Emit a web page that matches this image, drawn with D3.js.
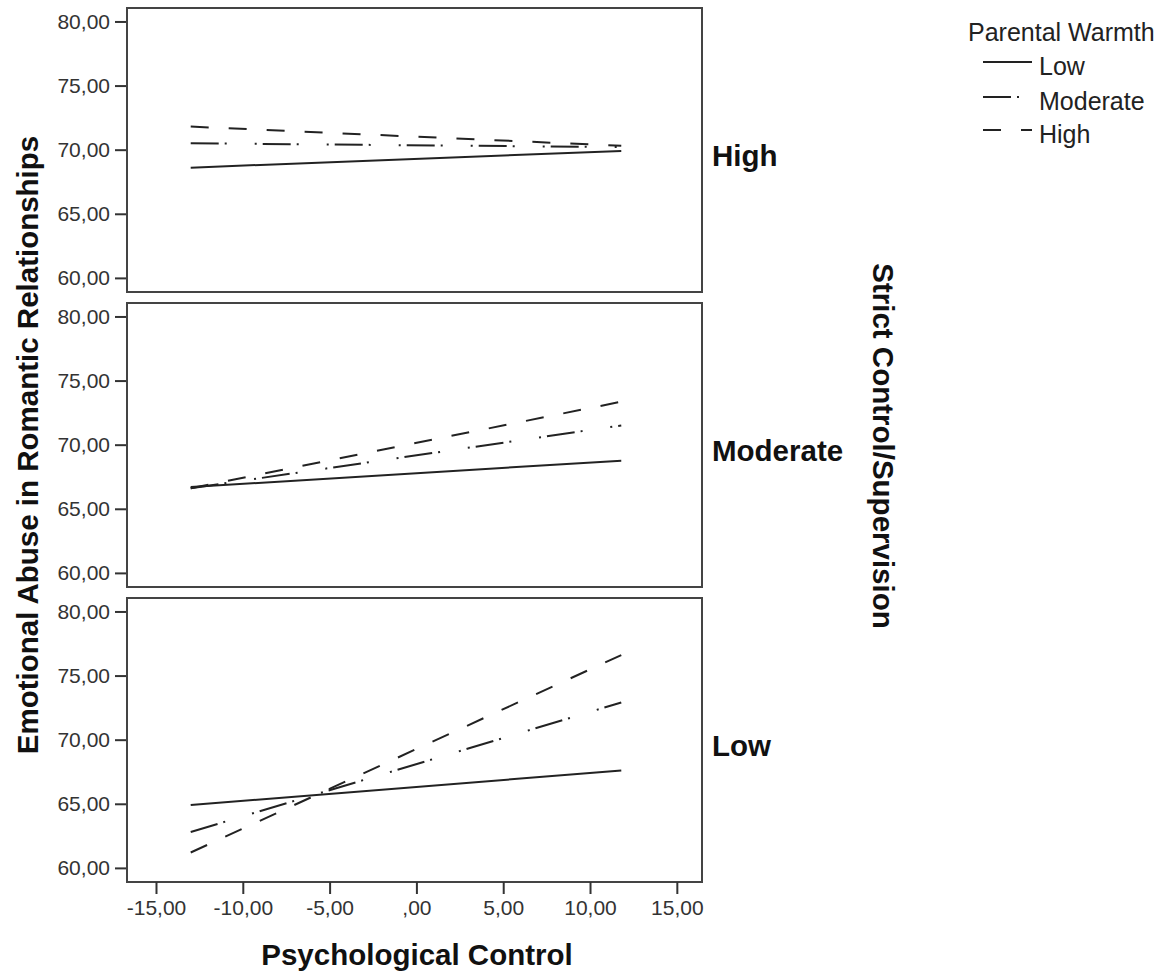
<!DOCTYPE html>
<html>
<head>
<meta charset="utf-8">
<script src="https://cdn.jsdelivr.net/npm/d3@7"></script>
<style>
  body { margin: 0; background: #fff; }
  svg { display: block; font-family: "Liberation Sans", Arial, sans-serif; }
</style>
</head>
<body>
<script>
// Data: simple slopes at the two ends of Psychological Control
var psychControl = [-13, 11.8];
var supervisionLevels = ["High", "Moderate", "Low"];   // panels, top to bottom
var warmthLevels = ["Low", "Moderate", "High"];        // lines in each panel

// start / end values per warmth level (Low, Moderate, High)
var highSupStart = [68.6, 70.5, 71.8],
    highSupEnd   = [69.9, 70.2, 70.3];
var modSupStart  = [66.7, 66.6, 66.6],
    modSupEnd    = [68.75, 71.5, 73.35];
var lowSupStart  = [64.9, 62.8, 61.2],
    lowSupEnd    = [67.6, 72.9, 76.6];

var yTicks = [60, 65, 70, 75, 80];
var xTicks = [-15, -10, -5, 0, 5, 10, 15];

var panelStarts = [highSupStart, modSupStart, lowSupStart],
    panelEnds = [highSupEnd, modSupEnd, lowSupEnd];

// Size
var width = 1171,
    height = 976;

var boxLeft = 127,
    boxRight = 702,
    panelTops = [8, 303, 598],
    panelHeight = 284;

// line styles for Low / Moderate / High warmth
var dashes = [null, "28,6,2,28,2,6", "18,20"];

// SPSS like number format: comma decimals, ",00" for zero
var locale = d3.formatLocale({decimal: ",", thousands: ".", grouping: [3], currency: ["", ""], minus: "-"});
var fmt2 = locale.format(".2f");
function fmt(v) {
    var s = fmt2(v);
    if (s.indexOf("0,") == 0) s = s.slice(1);
    return s;
}

var svg = d3.select("body")
    .append("svg")
    .attr("width", width)
    .attr("height", height);

var x = d3.scaleLinear()
    .domain([-16.67, 16.45])
    .range([boxLeft, boxRight]);

var y = d3.scaleLinear()
    .domain([58.9, 81.05])
    .range([panelHeight, 0]);

var line = d3.line()
    .x(function(d) { return x(d[0]); })
    .y(function(d) { return y(d[1]); });

// Draws the three panels
supervisionLevels.forEach(function(level, i) {
    var g = svg.append("g")
        .attr("transform", "translate(0," + panelTops[i] + ")");

    // y axis with ticks outside the box
    var yAxis = g.append("g")
        .attr("transform", "translate(" + boxLeft + ",0)")
        .call(d3.axisLeft(y).tickValues(yTicks).tickSize(12).tickPadding(5).tickFormat(fmt));
    yAxis.select(".domain").remove();
    yAxis.selectAll("line").attr("stroke", "#333").attr("stroke-width", 2);
    yAxis.selectAll("text")
        .attr("fill", "#333")
        .attr("font-size", "21px")
        .attr("font-family", "Liberation Sans, Arial, sans-serif");

    // frame
    g.append("rect")
        .attr("x", boxLeft)
        .attr("y", 0)
        .attr("width", boxRight - boxLeft)
        .attr("height", panelHeight)
        .attr("fill", "none")
        .attr("stroke", "#444")
        .attr("stroke-width", 2);

    // one line per warmth level
    warmthLevels.forEach(function(w, j) {
        var pts = [[psychControl[0], panelStarts[i][j]], [psychControl[1], panelEnds[i][j]]];
        g.append("path")
            .datum(pts)
            .attr("d", line)
            .attr("fill", "none")
            .attr("stroke", "#222")
            .attr("stroke-width", 2)
            .attr("stroke-dasharray", dashes[j]);
    });

    // panel label at the right
    g.append("text")
        .attr("x", boxRight + 10)
        .attr("y", y(70) + 16)
        .attr("font-size", "29.5px")
        .attr("font-weight", "bold")
        .attr("fill", "#111")
        .text(level);

    // x axis only under the last panel
    if (i == supervisionLevels.length - 1) {
        var xAxis = g.append("g")
            .attr("transform", "translate(0," + panelHeight + ")")
            .call(d3.axisBottom(x).tickValues(xTicks).tickSize(12).tickPadding(6).tickFormat(fmt));
        xAxis.select(".domain").remove();
        xAxis.selectAll("line").attr("stroke", "#333").attr("stroke-width", 2);
        xAxis.selectAll("text")
            .attr("fill", "#333")
            .attr("font-size", "21px")
            .attr("font-family", "Liberation Sans, Arial, sans-serif");
    }
});

// Axis titles
svg.append("text")
    .attr("x", 417)
    .attr("y", 965)
    .attr("text-anchor", "middle")
    .attr("font-size", "29.5px")
    .attr("font-weight", "bold")
    .attr("fill", "#111")
    .text("Psychological Control");

svg.append("text")
    .attr("transform", "translate(38,445) rotate(-90)")
    .attr("text-anchor", "middle")
    .attr("font-size", "29.5px")
    .attr("font-weight", "bold")
    .attr("fill", "#111")
    .text("Emotional Abuse in Romantic Relationships");

svg.append("text")
    .attr("transform", "translate(873,446) rotate(90)")
    .attr("text-anchor", "middle")
    .attr("font-size", "29.5px")
    .attr("font-weight", "bold")
    .attr("fill", "#111")
    .text("Strict Control/Supervision");

// Legend
var legend = svg.append("g")
    .attr("transform", "translate(968,0)");

legend.append("text")
    .attr("x", 0)
    .attr("y", 41)
    .attr("font-size", "25px")
    .attr("fill", "#222")
    .text("Parental Warmth");

var legendY = [62, 97, 130];
warmthLevels.forEach(function(w, j) {
    legend.append("line")
        .attr("x1", 15)
        .attr("x2", 64)
        .attr("y1", legendY[j])
        .attr("y2", legendY[j])
        .attr("stroke", "#222")
        .attr("stroke-width", 2)
        .attr("stroke-dasharray", dashes[j]);
    legend.append("text")
        .attr("x", 71)
        .attr("y", legendY[j] + 13)
        .attr("font-size", "25px")
        .attr("fill", "#222")
        .text(w);
});
</script>
</body>
</html>
